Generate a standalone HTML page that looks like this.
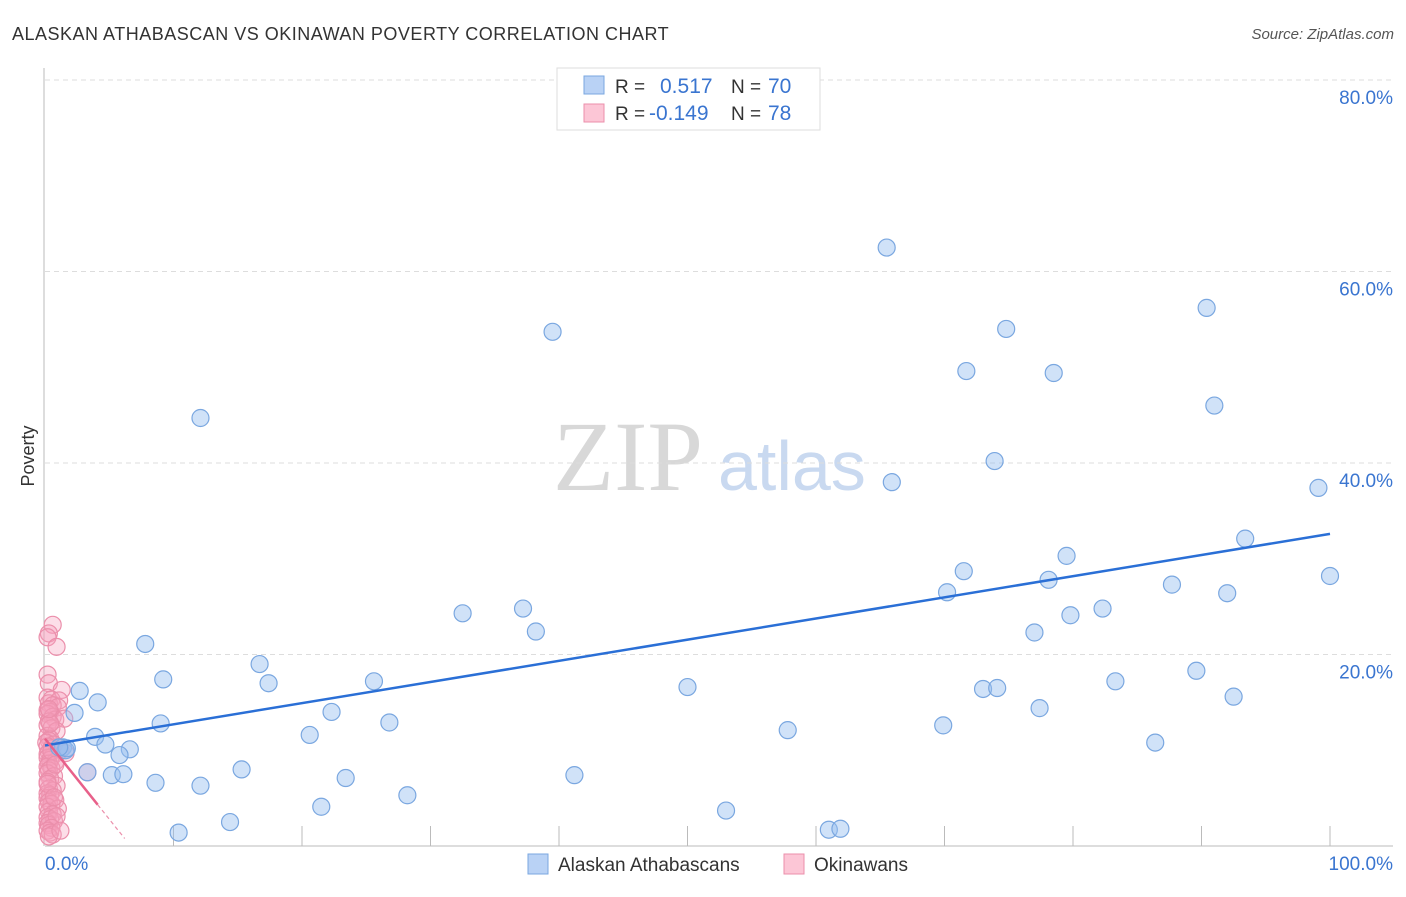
<!DOCTYPE html>
<html><head><meta charset="utf-8"><style>
body{margin:0;background:#fff;font-family:"Liberation Sans",sans-serif}
svg text{font-family:"Liberation Sans",sans-serif}
</style></head><body>
<svg id="chart" width="1406" height="892">
<text x="12" y="40" font-size="18" fill="#333" letter-spacing="0.5">ALASKAN ATHABASCAN VS OKINAWAN POVERTY CORRELATION CHART</text>
<text x="1394" y="39" font-size="15" fill="#555" font-style="italic" text-anchor="end">Source: ZipAtlas.com</text>
<g>
<text x="553" y="490" font-size="100" fill="#d8d8d8" style="font-family:'Liberation Serif',serif">ZIP</text>
<text x="718" y="490" font-size="70" fill="#c9d9f0">atlas</text>
</g>
<text x="34" y="456" font-size="18" fill="#333" transform="rotate(-90 34 456)" text-anchor="middle">Poverty</text>
<g id="grid"></g>
<g id="axes"></g>
<g id="marks"></g>
<g>
<rect x="557" y="68" width="263" height="62" fill="#fff" stroke="#ddd"/>
<rect x="584" y="76" width="20" height="18" fill="#b9d2f5" stroke="#7aa7e0"/>
<rect x="584" y="104" width="20" height="18" fill="#fcc6d6" stroke="#eb8fab"/>
<text x="615" y="93" font-size="19" fill="#333">R =</text>
<text x="660" y="93" font-size="21" fill="#3a75d0">0.517</text>
<text x="731" y="93" font-size="19" fill="#333">N =</text>
<text x="768" y="93" font-size="21" fill="#3a75d0">70</text>
<text x="615" y="120" font-size="19" fill="#333">R =</text>
<text x="649" y="120" font-size="21" fill="#3a75d0">-0.149</text>
<text x="731" y="120" font-size="19" fill="#333">N =</text>
<text x="768" y="120" font-size="21" fill="#3a75d0">78</text>
</g>
<g>
<rect x="528" y="854" width="20" height="20" fill="#b9d2f5" stroke="#7aa7e0"/>
<text x="558" y="871" font-size="19" fill="#333">Alaskan Athabascans</text>
<rect x="784" y="854" width="20" height="20" fill="#fcc6d6" stroke="#eb8fab"/>
<text x="814" y="871" font-size="19" fill="#333">Okinawans</text>
</g>
</svg>
<script>
const yTicks=[20,40,60,80];
const yTickLabels=["20.0%","40.0%","60.0%","80.0%"];
const xTickVals=[10,20,30,40,50,60,70,80,90,100];
const blueX=[65.5,39.5,90.4,74.8,12.1,71.7,78.5,91.0,73.9,65.9,99.1,93.4,79.5,71.5,78.1,100,70.2,87.7,92.0,32.5,37.2,38.2,82.3,79.8,77.0,7.8,16.7,9.2,17.4,25.6,2.7,4.1,2.3,22.3,50.0,73.0,74.1,83.3,89.6,92.5,77.4,9.0,26.8,69.9,20.6,3.9,4.7,1.4,6.6,5.8,86.4,57.8,15.3,3.3,5.2,6.1,23.4,41.2,8.6,12.1,21.5,28.2,53.0,14.4,10.4,61.0,61.9,1.6,1.7,1.1];
const blueY=[62.5,53.7,56.2,54.0,44.7,49.6,49.4,46.0,40.2,38.0,37.4,32.1,30.3,28.7,27.8,28.2,26.5,27.3,26.4,24.3,24.8,22.4,24.8,24.1,22.3,21.1,19.0,17.4,17.0,17.2,16.2,15.0,13.9,14.0,16.6,16.4,16.5,17.2,18.3,15.6,14.4,12.8,12.9,12.6,11.6,11.4,10.6,10.3,10.1,9.5,10.8,12.1,8.0,7.7,7.4,7.5,7.1,7.4,6.6,6.3,4.1,5.3,3.7,2.5,1.4,1.7,1.8,10.0,10.2,10.3];
const pinkX=[0.6,0.3,0.2,0.9,0.2,0.3,1.3,0.2,0.5,1.1,0.3,0.6,1.0,0.2,0.4,0.2,0.6,0.8,0.3,1.5,0.2,0.5,0.9,0.2,0.4,0.3,0.1,0.7,0.2,0.5,1.2,0.3,0.2,0.6,0.2,0.4,0.8,0.3,1.6,0.2,0.5,0.3,0.2,0.7,0.4,0.2,0.9,0.3,0.6,0.2,0.4,0.2,0.8,0.3,0.5,0.2,1.0,0.3,0.6,0.2,0.4,0.7,0.2,0.3,0.9,0.5,0.2,0.4,0.6,0.3,1.2,0.2,0.7,0.4,0.3,3.3,0.5,0.8];
const pinkY=[23.1,22.2,21.8,20.8,17.9,17.0,16.3,15.5,15.3,15.2,14.9,14.7,14.5,14.2,14.0,13.8,13.5,13.2,13.0,13.3,12.6,12.3,12.0,11.5,11.2,11.0,10.8,10.6,10.4,10.2,10.0,9.8,9.6,9.4,9.2,9.0,8.8,8.6,9.7,8.3,8.1,7.9,7.6,7.3,7.0,6.7,6.3,6.0,5.8,5.5,5.3,5.0,4.8,4.6,4.4,4.1,3.9,3.6,3.3,3.0,2.8,2.6,2.4,2.2,3.1,1.9,1.6,1.4,1.2,1.0,1.6,6.5,5.1,12.8,14.3,7.7,9.9,8.5];
const blueTrend=[10.5,32.6];
const pinkTrend=[11.2,-1.68];
const X0=45,X1=1330,Y0=846,PPY=9.575;
const sx=v=>X0+v*(X1-X0)/100, sy=v=>Y0-v*PPY;
const NS="http://www.w3.org/2000/svg";
function mk(tag,attrs,parent){const e=document.createElementNS(NS,tag);for(const k in attrs)e.setAttribute(k,attrs[k]);document.getElementById(parent).appendChild(e);return e;}
yTicks.forEach((t,i)=>{
 const g=mk('line',{x1:X0,x2:1393,y1:sy(t),y2:sy(t),stroke:'#ddd','stroke-dasharray':'5,4'},'grid');
 
 
 const l=mk('text',{x:1393,y:sy(t)+24,'font-size':19,fill:'#3a75d0','text-anchor':'end'},'grid');
 l.textContent=yTickLabels[i];
 
 
});
const ax=mk('line',{x1:X0,x2:1393,y1:Y0,y2:Y0,stroke:'#bbb'},'axes');


const ay=mk('line',{x1:44,x2:44,y1:68,y2:Y0,stroke:'#bbb'},'axes');


xTickVals.forEach(v=>{const t=mk('line',{x1:sx(v),x2:sx(v),y1:826,y2:Y0,stroke:'#bbb'},'axes');
 
 });
const xl0=mk('text',{x:45,y:870,'font-size':19,fill:'#3a75d0'},'axes');xl0.textContent='0.0%';


const xl1=mk('text',{x:1393,y:870,'font-size':19,fill:'#3a75d0','text-anchor':'end'},'axes');xl1.textContent='100.0%';


pinkX.forEach((x,i)=>{const c=mk('circle',{cx:sx(x),cy:sy(pinkY[i]),r:8.5,fill:'rgba(245,160,190,0.35)',stroke:'#eb8fab','stroke-width':1.2},'marks');
 
 });
blueX.forEach((x,i)=>{const c=mk('circle',{cx:sx(x),cy:sy(blueY[i]),r:8.5,fill:'rgba(150,190,240,0.45)',stroke:'#7aa7e0','stroke-width':1.2},'marks');
 
 });
const bl=mk('line',{x1:sx(0),y1:sy(blueTrend[0]),x2:sx(100),y2:sy(blueTrend[1]),stroke:'#2a6fd6','stroke-width':2.5},'marks');


const pl=mk('line',{x1:sx(0),y1:sy(pinkTrend[0]),x2:sx(4.1),y2:sy(pinkTrend[0]+pinkTrend[1]*4.1),stroke:'#e8608a','stroke-width':2.5},'marks');


const pd=mk('line',{x1:sx(4.1),y1:sy(pinkTrend[0]+pinkTrend[1]*4.1),x2:sx(6.2),y2:sy(pinkTrend[0]+pinkTrend[1]*6.2),stroke:'#eb8fab','stroke-width':1.2,'stroke-dasharray':'4,3'},'marks');


</script>
</body></html>
